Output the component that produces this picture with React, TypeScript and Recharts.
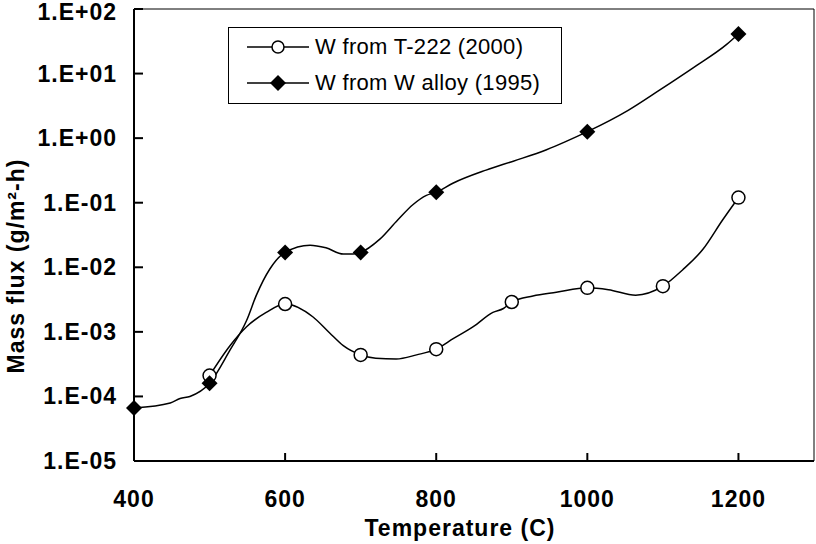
import { LineChart, Line, XAxis, YAxis, ReferenceArea } from 'recharts';

// W from T-222 (2000) — marked measurements
const T222_TEMPS = [500, 600, 700, 800, 900, 1000, 1100, 1200];
const T222_FLUX = [2.1e-4, 2.7e-3, 4.4e-4, 5.4e-4, 2.9e-3, 4.8e-3, 5.1e-3, 0.12];
// traced curve through the markers
const T222_CURVE_TEMPS = [500, 527, 549, 575, 600, 637, 659, 677, 700, 720, 747, 774, 800, 823, 849, 875, 889, 900, 928, 959, 1000, 1028, 1064, 1100, 1126, 1153, 1179, 1200];
const T222_CURVE_FLUX = [2.1e-4, 6.1e-4, 1.2e-3, 2.0e-3, 2.7e-3, 1.7e-3, 9.6e-4, 6.1e-4, 4.4e-4, 3.9e-4, 3.8e-4, 4.4e-4, 5.4e-4, 7.9e-4, 1.2e-3, 2.0e-3, 2.3e-3, 2.9e-3, 3.6e-3, 4.1e-3, 4.8e-3, 4.5e-3, 3.7e-3, 5.1e-3, 9.1e-3, 1.9e-2, 5.4e-2, 0.12];

// W from W alloy (1995)
const WALLOY_TEMPS = [400, 500, 600, 700, 800, 1000, 1200];
const WALLOY_FLUX = [6.6e-5, 1.6e-4, 1.7e-2, 1.7e-2, 0.145, 1.26, 41];
const WALLOY_CURVE_TEMPS = [400, 448, 461, 474, 500, 527, 549, 562, 580, 600, 633, 654, 677, 690, 700, 725, 749, 769, 787, 800, 822, 866, 902, 946, 972, 1000, 1054, 1096, 1140, 1184, 1200];
const WALLOY_CURVE_FLUX = [6.6e-5, 7.9e-5, 9.3e-5, 1.0e-4, 1.6e-4, 5.2e-4, 1.5e-3, 3.7e-3, 9.5e-3, 1.7e-2, 2.2e-2, 2.0e-2, 1.6e-2, 1.6e-2, 1.7e-2, 2.7e-2, 5.4e-2, 9.3e-2, 0.13, 0.145, 0.2, 0.32, 0.44, 0.66, 0.89, 1.26, 2.7, 5.6, 12.3, 28, 41];

const X_TICKS = [400, 600, 800, 1000, 1200];
const Y_TICKS = [1e-5, 1e-4, 1e-3, 1e-2, 1e-1, 1, 10, 100];

const SERIES_NAMES = ['W from T-222 (2000)', 'W from W alloy (1995)'];

const toRows = (ts: number[], vs: number[]) => ts.map((t, i) => ({ t, v: vs[i] }));

const FONT = '"Liberation Sans", Arial, sans-serif';

const fmtExp = (v: number) => {
  const e = Math.round(Math.log10(v));
  return `1.E${e < 0 ? '-' : '+'}${String(Math.abs(e)).padStart(2, '0')}`;
};

function YTick(props: any) {
  const { x, y, payload } = props;
  // keep the top label inside the page
  const dy = payload.value >= 100 ? 11 : 8;
  return (
    <g>
      <line x1={x} x2={x + 9} y1={y} y2={y} stroke="#000" strokeWidth={2} />
      <text x={x - 17} y={y + dy} textAnchor="end" fontFamily={FONT} fontWeight={700} fontSize={23} letterSpacing={1} fill="#000">
        {fmtExp(payload.value)}
      </text>
    </g>
  );
}

function XTick(props: any) {
  const { x, y, payload } = props;
  return (
    <g>
      <line x1={x} x2={x} y1={y} y2={y - 8} stroke="#000" strokeWidth={2} />
      <text x={x} y={y + 46} textAnchor="middle" fontFamily={FONT} fontWeight={700} fontSize={23} letterSpacing={1} fill="#000">
        {payload.value}
      </text>
    </g>
  );
}

const circleDot = (p: any) => (
  <circle key={`c-${p.index}`} cx={p.cx} cy={p.cy} r={6.5} fill="#fff" stroke="#000" strokeWidth={1.5} />
);
const diamondDot = (p: any) => (
  <path key={`d-${p.index}`} d={`M${p.cx},${p.cy - 8}L${p.cx + 8},${p.cy}L${p.cx},${p.cy + 8}L${p.cx - 8},${p.cy}Z`} fill="#000" />
);

function LegendBox() {
  const row = (name: string, marker: 'circle' | 'diamond') => (
    <div style={{ display: 'flex', alignItems: 'center', height: 36 }}>
      <svg width={64} height={20} style={{ marginLeft: 18, marginRight: 4 }}>
        <line x1={0} x2={62} y1={10} y2={10} stroke="#000" strokeWidth={1.5} />
        {marker === 'circle' ? (
          <circle cx={31} cy={10} r={6} fill="#fff" stroke="#000" strokeWidth={1.5} />
        ) : (
          <path d="M31,2L39,10L31,18L23,10Z" fill="#000" />
        )}
      </svg>
      <span style={{ fontFamily: FONT, fontSize: 22, letterSpacing: 0.3, color: '#000', whiteSpace: 'nowrap' }}>{name}</span>
    </div>
  );
  return (
    <div
      style={{
        position: 'absolute', left: 228, top: 27, width: 332, height: 74,
        border: '1.5px solid #000', background: '#fff', paddingTop: 1, boxSizing: 'content-box',
      }}
    >
      {row(SERIES_NAMES[0], 'circle')}
      {row(SERIES_NAMES[1], 'diamond')}
    </div>
  );
}

export default function App() {
  return (
    <div style={{ position: 'absolute', left: 0, top: 0, width: 816, height: 544, background: '#fff' }}>
      <LineChart width={816} height={544} margin={{ top: 9, right: 2, left: 0, bottom: 0 }}>
        <XAxis
          type="number"
          dataKey="t"
          domain={[400, 1300]}
          ticks={X_TICKS}
          height={83}
          tickSize={0}
          tickMargin={0}
          tick={<XTick />}
          axisLine={{ stroke: '#000', strokeWidth: 2 }}
          label={({ viewBox }: any) => (
            <text x={viewBox.x + viewBox.width / 2 - 14} y={viewBox.y + 75} textAnchor="middle" fontFamily={FONT} fontWeight={700} fontSize={23} letterSpacing={1} fill="#000">
              Temperature (C)
            </text>
          )}
        />
        <YAxis
          type="number"
          scale="log"
          domain={[1e-5, 100]}
          ticks={Y_TICKS}
          width={134}
          tickSize={0}
          tickMargin={0}
          tick={<YTick />}
          axisLine={{ stroke: '#000', strokeWidth: 2 }}
          label={({ viewBox }: any) => (
            <text
              x={viewBox.x + 24}
              y={viewBox.y + 257}
              transform={`rotate(-90, ${viewBox.x + 24}, ${viewBox.y + 257})`}
              textAnchor="middle"
              fontFamily={FONT}
              fontWeight={700}
              fontSize={23}
              letterSpacing={1}
              fill="#000"
            >
              Mass flux (g/m²-h)
            </text>
          )}
        />
        <ReferenceArea x1={400} x2={1300} y1={1e-5} y2={100} fill="none" stroke="#000" strokeWidth={1} />
        <Line data={toRows(T222_CURVE_TEMPS, T222_CURVE_FLUX)} dataKey="v" type="monotone" stroke="#000" strokeWidth={1.5} dot={false} isAnimationActive={false} />
        <Line data={toRows(WALLOY_CURVE_TEMPS, WALLOY_CURVE_FLUX)} dataKey="v" type="monotone" stroke="#000" strokeWidth={1.5} dot={false} isAnimationActive={false} />
        <Line data={toRows(T222_TEMPS, T222_FLUX)} dataKey="v" stroke="none" dot={circleDot} activeDot={false} isAnimationActive={false} />
        <Line data={toRows(WALLOY_TEMPS, WALLOY_FLUX)} dataKey="v" stroke="none" dot={diamondDot} activeDot={false} isAnimationActive={false} />
      </LineChart>
      <LegendBox />
    </div>
  );
}
